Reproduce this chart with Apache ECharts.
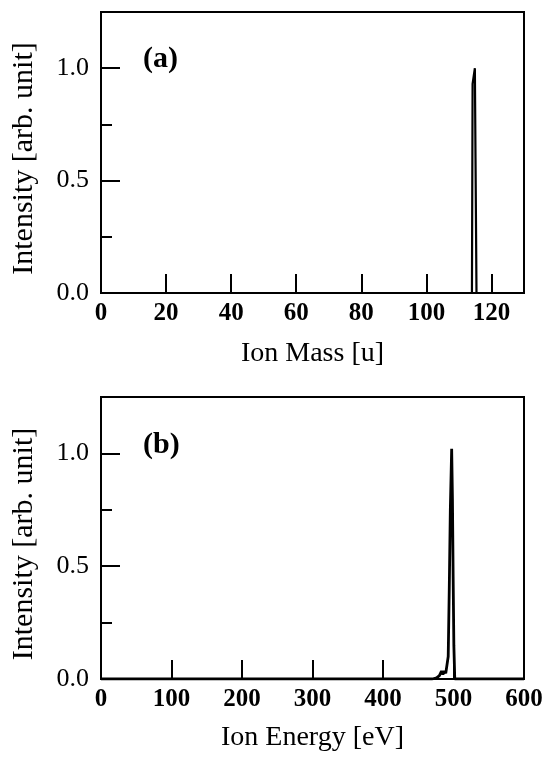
<!DOCTYPE html>
<html>
<head>
<meta charset="utf-8">
<script src="https://cdn.jsdelivr.net/npm/echarts@6/dist/echarts.min.js"></script>
<style>
html,body{margin:0;padding:0;background:#fff;}
#chart{width:548px;height:759px;}
</style>
</head>
<body>
<div id="chart"></div>
<script>
// Panel (a): ion mass spectrum [mass (u), intensity]
const massX = [0, 114.0, 114.2, 114.9, 115.1, 115.4, 130];
const massY = [0, 0, 0.93, 1.0, 0.6, 0, 0];
// Panel (b): ion energy spectrum [energy (eV), intensity]
const energyX = [0, 470, 476, 480, 483, 485, 487, 489, 491, 492.5, 494, 495.5, 497.4, 498.5, 499.5, 500.5, 501.8, 600];
const energyY = [0, 0, 0.005, 0.015, 0.035, 0.02, 0.035, 0.025, 0.03, 0.1, 0.4, 0.75, 1.02, 0.8, 0.45, 0.15, 0, 0];
const massTicks = [0, 20, 40, 60, 80, 100, 120];
const energyTicks = [0, 100, 200, 300, 400, 500, 600];
const yTicks = [0, 0.5, 1.0];
const panelLabels = ['(a)', '(b)'];
const xNames = ['Ion Mass [u]', 'Ion Energy [eV]'];
const yName = 'Intensity [arb. unit]';

const FONT = '"Liberation Serif", "Times New Roman", serif';
const pair = (xs, ys) => xs.map((x, i) => [x, ys[i]]);

function xAxisCfg(gi, max, interval, ticks, name, gap) {
  return {
    type: 'value', gridIndex: gi, min: 0, max: max, interval: interval, position: 'bottom',
    name: name, nameLocation: 'middle', nameGap: gap,
    nameTextStyle: {fontFamily: FONT, fontSize: 28, color: '#000'},
    axisLine: {show: true, lineStyle: {color: '#000', width: 2}},
    axisTick: {show: true, inside: true, length: 19, lineStyle: {color: '#000', width: 2}},
    axisLabel: {
      show: true, margin: 8, fontFamily: FONT, fontSize: 25, fontWeight: 'bold', color: '#000',
      formatter: v => ticks.indexOf(v) >= 0 ? String(v) : ''
    },
    splitLine: {show: false}
  };
}
function yAxisMajor(gi) {
  return {
    type: 'value', gridIndex: gi, min: 0, max: 1.25, interval: 0.5, position: 'left',
    name: yName, nameLocation: 'middle', nameGap: 62, nameRotate: 90,
    nameTextStyle: {fontFamily: FONT, fontSize: 30, color: '#000', padding: [0, 12, 0, 0]},
    axisLine: {show: true, lineStyle: {color: '#000', width: 2}},
    axisTick: {show: true, inside: true, length: 19, lineStyle: {color: '#000', width: 2}},
    axisLabel: {
      show: true, margin: 12, fontFamily: FONT, fontSize: 26, color: '#000',
      formatter: v => yTicks.some(t => Math.abs(t - v) < 1e-9) ? v.toFixed(1) : ''
    },
    splitLine: {show: false}
  };
}
function yAxisMinor(gi) {
  return {
    type: 'value', gridIndex: gi, min: 0, max: 1.25, interval: 0.25, position: 'left', offset: 0,
    axisLine: {show: false},
    axisTick: {show: true, inside: true, length: 11, lineStyle: {color: '#000', width: 2}},
    axisLabel: {show: false},
    splitLine: {show: false}
  };
}

const chart = echarts.init(document.getElementById('chart'), null, {renderer: 'canvas'});
chart.setOption({
  backgroundColor: '#fff',
  animation: false,
  grid: [
    {left: 101, width: 423, top: 12, height: 281, show: true, borderColor: '#000', borderWidth: 2, backgroundColor: 'transparent'},
    {left: 101, width: 423, top: 397, height: 282, show: true, borderColor: '#000', borderWidth: 2, backgroundColor: 'transparent'}
  ],
  xAxis: [
    xAxisCfg(0, 130, 20, massTicks, xNames[0], 47),
    xAxisCfg(1, 600, 100, energyTicks, xNames[1], 45)
  ],
  yAxis: [yAxisMajor(0), yAxisMinor(0), yAxisMajor(1), yAxisMinor(1)],
  graphic: [
    {type: 'text', left: 143, top: 44, style: {text: panelLabels[0], fontFamily: FONT, fontSize: 30, fontWeight: 'bold', fill: '#000'}},
    {type: 'text', left: 143, top: 430, style: {text: panelLabels[1], fontFamily: FONT, fontSize: 30, fontWeight: 'bold', fill: '#000'}}
  ],
  series: [
    {type: 'line', xAxisIndex: 0, yAxisIndex: 0, data: pair(massX, massY), showSymbol: false, symbol: 'none',
     lineStyle: {color: '#000', width: 2.2}, z: 3},
    {type: 'line', xAxisIndex: 1, yAxisIndex: 2, data: pair(energyX, energyY), showSymbol: false, symbol: 'none',
     lineStyle: {color: '#000', width: 2.8}, z: 3}
  ]
});
</script>
</body>
</html>
